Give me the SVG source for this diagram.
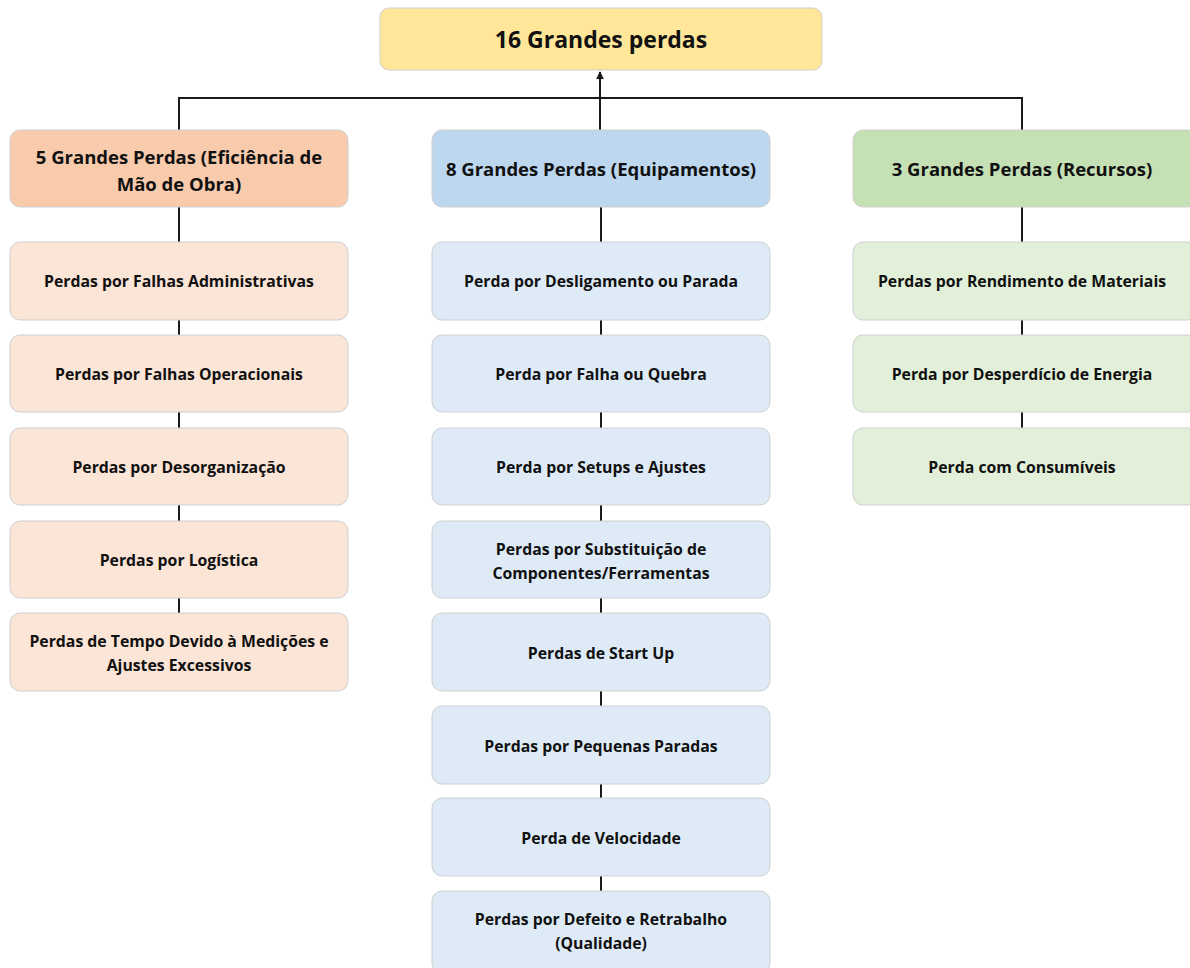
<svg xmlns="http://www.w3.org/2000/svg" width="1190" height="968" viewBox="0 0 1190 968">
  <defs>
    <marker id="arrow" viewBox="0 0 10 10" refX="9" refY="5" markerWidth="4" markerHeight="4" orient="auto">
      <path d="M0,0 L10,5 L0,10 z" fill="#1a1a1a"/>
    </marker>
  </defs>
  <style>
    .box { stroke: #cfcfcf; stroke-width: 1; }
    .root { fill: #FFE699; }
    .h-or { fill: #F8CBAD; }
    .c-or { fill: #FBE5D6; }
    .h-bl { fill: #BDD7EE; }
    .c-bl { fill: #DEEBF7; }
    .h-gr { fill: #C5E0B4; }
    .c-gr { fill: #E2F0D9; }
    text { font-family: "Open Sans", Lato, "Liberation Sans", sans-serif; font-weight: bold; fill: #111; text-anchor: middle; }
    .t-root { font-size: 23px; }
    .t-head { font-size: 18.5px; }
    .t-item { font-size: 15.8px; }
    .line { stroke: #1a1a1a; stroke-width: 2; fill: none; }
  </style>
  <rect width="1190" height="968" fill="#ffffff"/>

  <!-- connectors -->
  <g id="connectors">
    <path class="line" d="M179,130 V98 H1022 V130"/>
    <path class="line" d="M600,130 V72" marker-end="url(#arrow)"/>
    <path class="line" d="M179,207 V242 M179,320 V335 M179,412 V428 M179,505 V521 M179,598 V613"/>
    <path class="line" d="M601,207 V242 M601,320 V335 M601,412 V428 M601,505 V521 M601,598 V613 M601,691 V706 M601,784 V798 M601,876 V891"/>
    <path class="line" d="M1022,207 V242 M1022,320 V335 M1022,412 V428"/>
  </g>

  <!-- root -->
  <g id="root">
    <rect class="box root" x="380" y="8" width="442" height="62" rx="9"/>
    <text class="t-root" x="601" y="48">16 Grandes perdas</text>
  </g>

  <!-- left column: mão de obra -->
  <g id="head-mao-de-obra">
    <rect class="box h-or" x="10" y="130" width="338" height="77" rx="10"/>
    <text class="t-head" x="179" y="164">5 Grandes Perdas (Eficiência de</text>
    <text class="t-head" x="179" y="191">Mão de Obra)</text>
  </g>
  <g id="mo-1">
    <rect class="box c-or" x="10" y="242" width="338" height="78" rx="10"/>
    <text class="t-item" x="179" y="287">Perdas por Falhas Administrativas</text>
  </g>
  <g id="mo-2">
    <rect class="box c-or" x="10" y="335" width="338" height="77" rx="10"/>
    <text class="t-item" x="179" y="380">Perdas por Falhas Operacionais</text>
  </g>
  <g id="mo-3">
    <rect class="box c-or" x="10" y="428" width="338" height="77" rx="10"/>
    <text class="t-item" x="179" y="473">Perdas por Desorganização</text>
  </g>
  <g id="mo-4">
    <rect class="box c-or" x="10" y="521" width="338" height="77" rx="10"/>
    <text class="t-item" x="179" y="566">Perdas por Logística</text>
  </g>
  <g id="mo-5">
    <rect class="box c-or" x="10" y="613" width="338" height="78" rx="10"/>
    <text class="t-item" x="179" y="647">Perdas de Tempo Devido à Medições e</text>
    <text class="t-item" x="179" y="671">Ajustes Excessivos</text>
  </g>

  <!-- middle column: equipamentos -->
  <g id="head-equipamentos">
    <rect class="box h-bl" x="432" y="130" width="338" height="77" rx="10"/>
    <text class="t-head" x="601" y="176">8 Grandes Perdas (Equipamentos)</text>
  </g>
  <g id="eq-1">
    <rect class="box c-bl" x="432" y="242" width="338" height="78" rx="10"/>
    <text class="t-item" x="601" y="287">Perda por Desligamento ou Parada</text>
  </g>
  <g id="eq-2">
    <rect class="box c-bl" x="432" y="335" width="338" height="77" rx="10"/>
    <text class="t-item" x="601" y="380">Perda por Falha ou Quebra</text>
  </g>
  <g id="eq-3">
    <rect class="box c-bl" x="432" y="428" width="338" height="77" rx="10"/>
    <text class="t-item" x="601" y="473">Perda por Setups e Ajustes</text>
  </g>
  <g id="eq-4">
    <rect class="box c-bl" x="432" y="521" width="338" height="77" rx="10"/>
    <text class="t-item" x="601" y="555">Perdas por Substituição de</text>
    <text class="t-item" x="601" y="579">Componentes/Ferramentas</text>
  </g>
  <g id="eq-5">
    <rect class="box c-bl" x="432" y="613" width="338" height="78" rx="10"/>
    <text class="t-item" x="601" y="659">Perdas de Start Up</text>
  </g>
  <g id="eq-6">
    <rect class="box c-bl" x="432" y="706" width="338" height="78" rx="10"/>
    <text class="t-item" x="601" y="752">Perdas por Pequenas Paradas</text>
  </g>
  <g id="eq-7">
    <rect class="box c-bl" x="432" y="798" width="338" height="78" rx="10"/>
    <text class="t-item" x="601" y="844">Perda de Velocidade</text>
  </g>
  <g id="eq-8">
    <rect class="box c-bl" x="432" y="891" width="338" height="82" rx="10"/>
    <text class="t-item" x="601" y="925">Perdas por Defeito e Retrabalho</text>
    <text class="t-item" x="601" y="949">(Qualidade)</text>
  </g>

  <!-- right column: recursos -->
  <g id="head-recursos">
    <rect class="box h-gr" x="853" y="130" width="345" height="77" rx="10"/>
    <text class="t-head" x="1022" y="176">3 Grandes Perdas (Recursos)</text>
  </g>
  <g id="re-1">
    <rect class="box c-gr" x="853" y="242" width="345" height="78" rx="10"/>
    <text class="t-item" x="1022" y="287">Perdas por Rendimento de Materiais</text>
  </g>
  <g id="re-2">
    <rect class="box c-gr" x="853" y="335" width="345" height="77" rx="10"/>
    <text class="t-item" x="1022" y="380">Perda por Desperdício de Energia</text>
  </g>
  <g id="re-3">
    <rect class="box c-gr" x="853" y="428" width="345" height="77" rx="10"/>
    <text class="t-item" x="1022" y="473">Perda com Consumíveis</text>
  </g>
</svg>
